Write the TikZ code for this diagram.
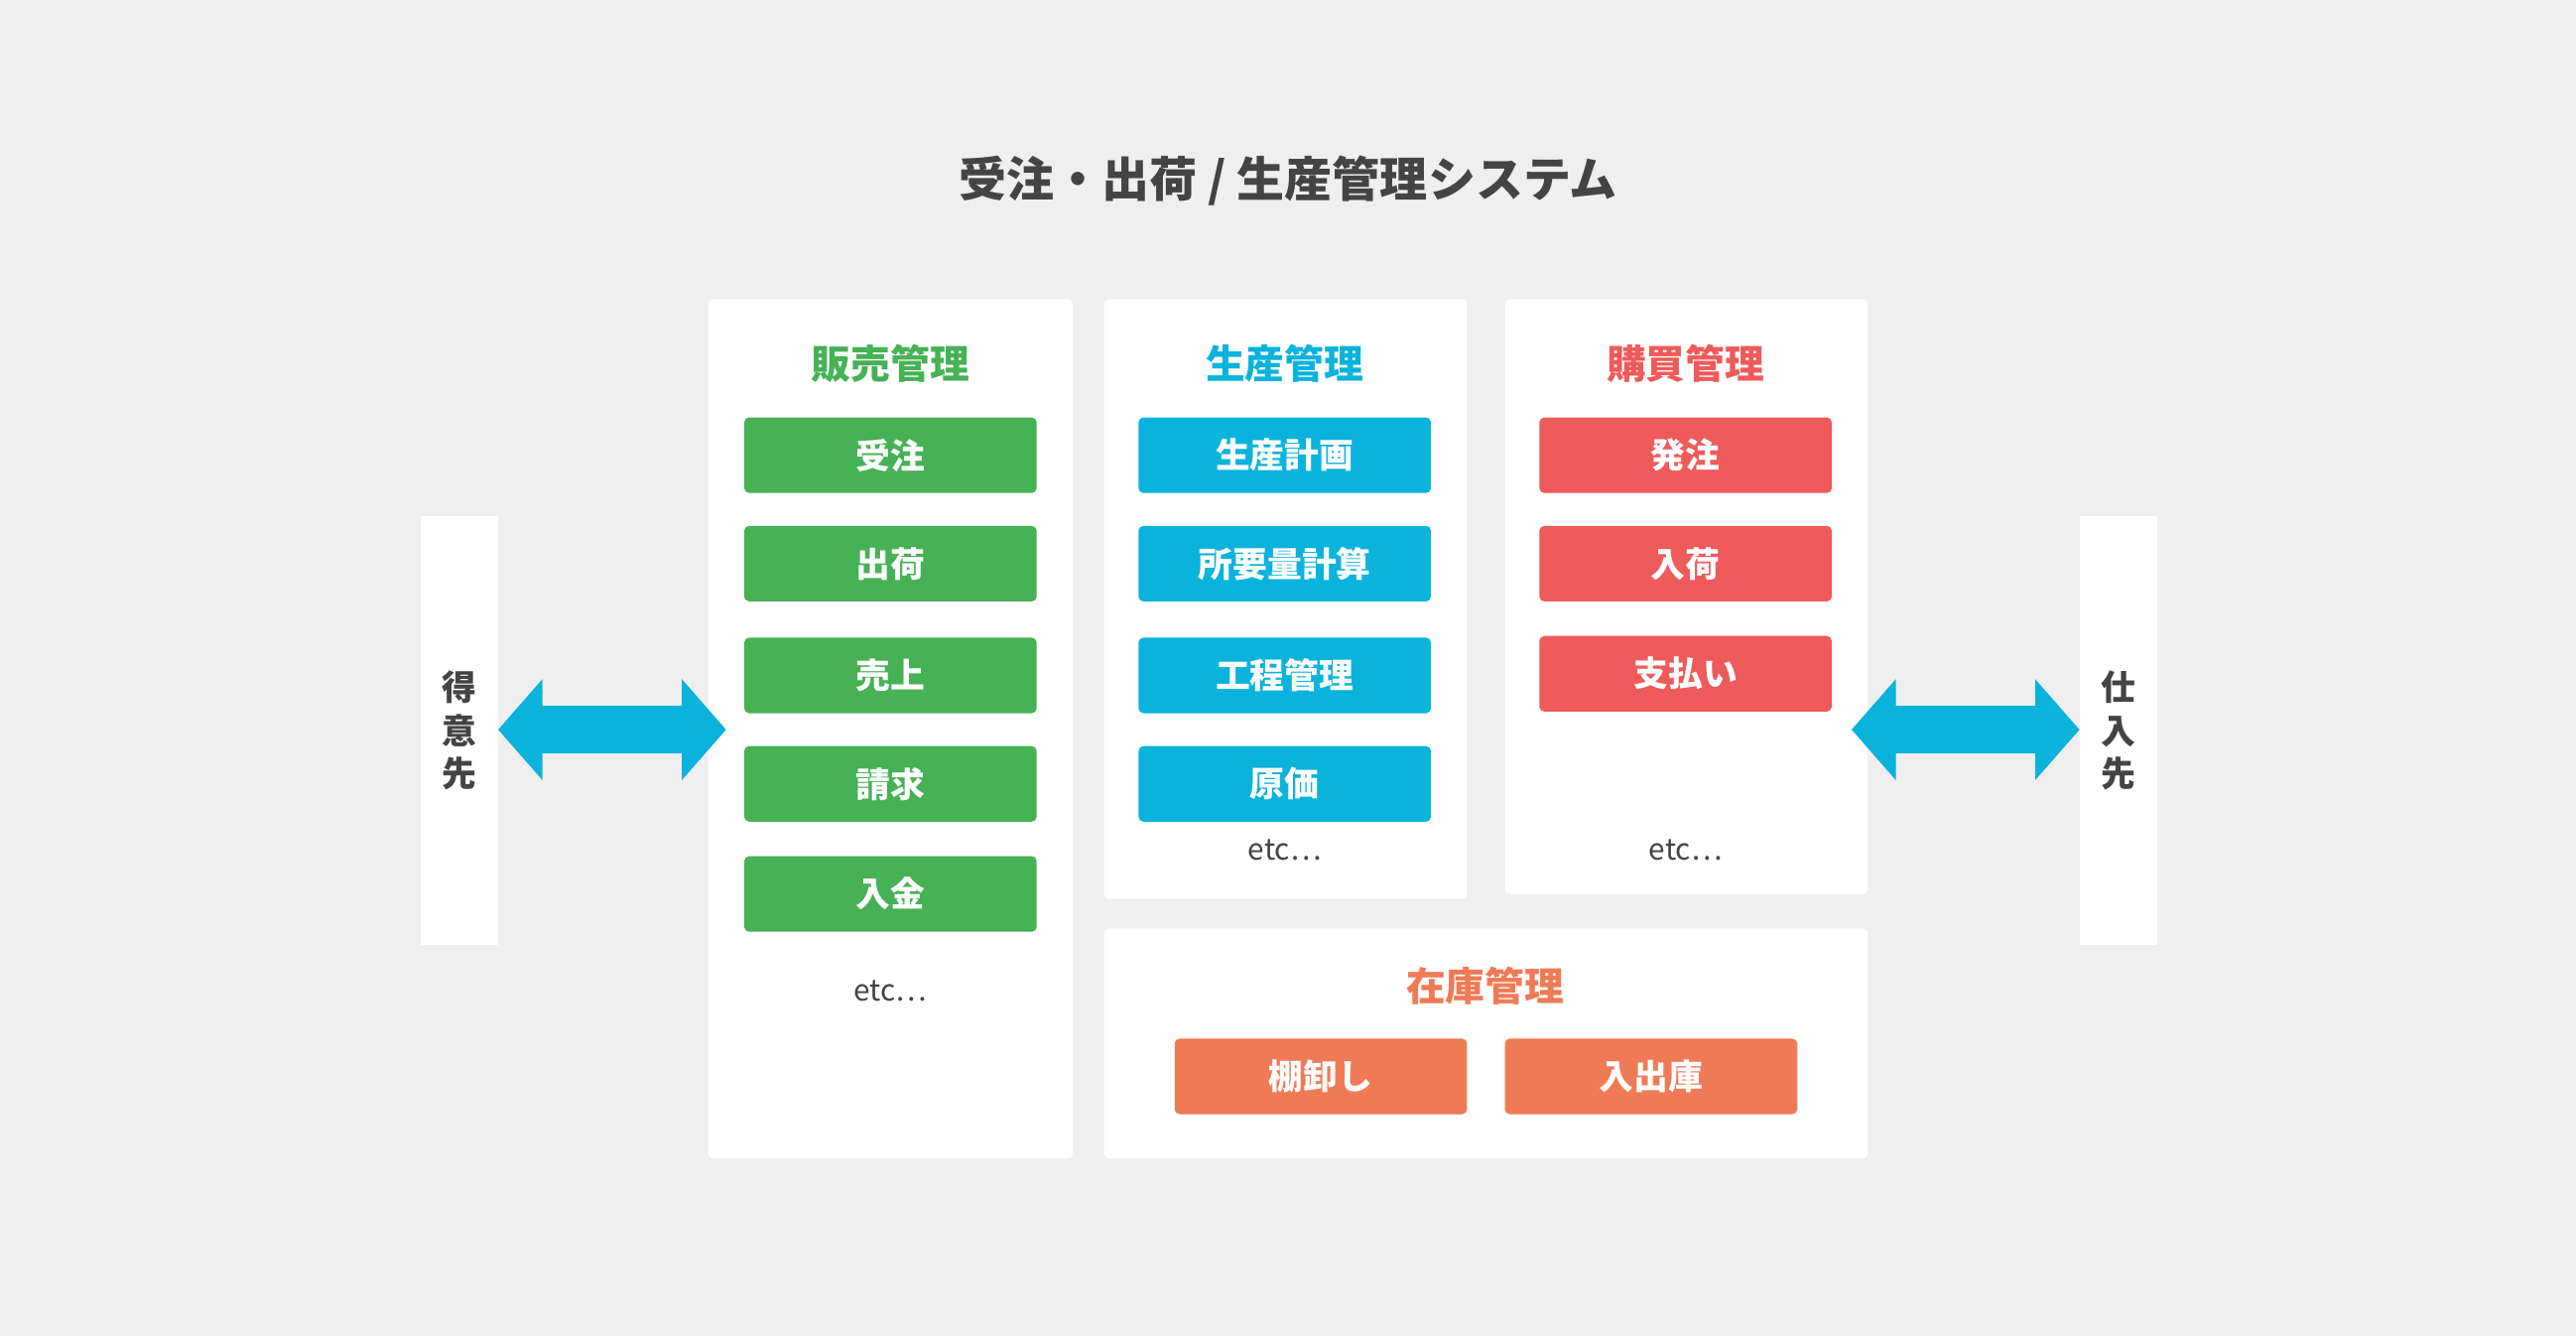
\documentclass[tikz,border=0pt]{standalone}
\usepackage{fontspec}
\setmainfont{Noto Sans CJK JP}
\usetikzlibrary{arrows.meta}
\definecolor{bg}{HTML}{EFEFEF}
\definecolor{cg}{HTML}{46B155}
\definecolor{cb}{HTML}{0AB3DB}
\definecolor{cr}{HTML}{EF5A5A}
\definecolor{co}{HTML}{EF7B56}
\definecolor{tx}{HTML}{444444}
\begin{document}
\begin{tikzpicture}[x=1pt,y=-1pt,
 panel/.style={fill=white,rounded corners=3pt,draw=none},
 btn/.style={rounded corners=3pt,minimum width=178pt,minimum height=46pt,inner sep=0pt,text=white,font=\fontsize{21}{21}\selectfont\bfseries},
 ptitle/.style={font=\fontsize{24}{24}\selectfont\bfseries},
 etc/.style={text=tx,font=\fontsize{18}{18}\selectfont},
 side/.style={fill=white,minimum width=47pt,minimum height=261pt,inner sep=0pt,text=tx,font=\fontsize{21}{26}\selectfont\bfseries,align=center},
 arr/.style={cb,line width=29pt,{Triangle[length=27pt,width=60pt]}-{Triangle[length=27pt,width=60pt]}}]
\fill[bg] (0,0) rectangle (1568,813);
\useasboundingbox (0,0) rectangle (1568,813);
\node[text=tx,font=\fontsize{29}{29}\selectfont\bfseries] (title) at (784,110) {受注・出荷 / 生産管理システム};
\node[side] (cust) at (279.5,444.5) {得\\意\\先};
\node[side] (supp) at (1289.5,444.5) {仕\\入\\先};
\node[panel,minimum width=222pt,minimum height=523pt] (p1) at (542,443.5) {};
\node[panel,minimum width=221pt,minimum height=365pt] (p2) at (782.5,364.5) {};
\node[panel,minimum width=221pt,minimum height=362pt] (p3) at (1026.5,363) {};
\node[panel,minimum width=465pt,minimum height=140pt] (p4) at (904.5,635) {};
\node[ptitle,text=cg] (t1) at (542,221) {販売管理};
\node[ptitle,text=cb] (t2) at (782,221) {生産管理};
\node[ptitle,text=cr] (t3) at (1026,221) {購買管理};
\node[ptitle,text=co] (t4) at (904,600) {在庫管理};
\node[btn,fill=cg] (g1) at (542,277) {受注};
\node[btn,fill=cg] (g2) at (542,343) {出荷};
\node[btn,fill=cg] (g3) at (542,411) {売上};
\node[btn,fill=cg] (g4) at (542,477) {請求};
\node[btn,fill=cg] (g5) at (542,544) {入金};
\node[etc] (e1) at (542,603) {etc…};
\node[btn,fill=cb] (b1) at (782,277) {生産計画};
\node[btn,fill=cb] (b2) at (782,343) {所要量計算};
\node[btn,fill=cb] (b3) at (782,411) {工程管理};
\node[btn,fill=cb] (b4) at (782,477) {原価};
\node[etc] (e2) at (782,517) {etc…};
\node[btn,fill=cr] (r1) at (1026,277) {発注};
\node[btn,fill=cr] (r2) at (1026,343) {入荷};
\node[btn,fill=cr] (r3) at (1026,410) {支払い};
\node[etc] (e3) at (1026,517) {etc…};
\node[btn,fill=co] (o1) at (804,655) {棚卸し};
\node[btn,fill=co] (o2) at (1005,655) {入出庫};
\coordinate (la) at (442,444);
\coordinate (ra) at (1127,444);
\draw[arr] (cust.east |- la) -- (la);
\draw[arr] (ra) -- (supp.west |- ra);
\end{tikzpicture}
\end{document}
